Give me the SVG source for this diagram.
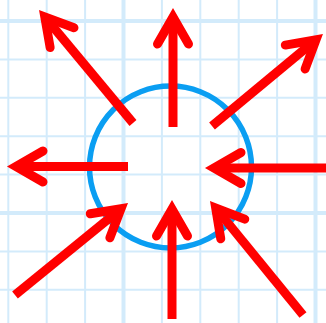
<svg xmlns="http://www.w3.org/2000/svg" width="326" height="323" viewBox="0 0 326 323">
<style>
.g{stroke:#d3ebfb;stroke-width:2;fill:none}
.gt{stroke:#d3ebfb;stroke-width:4;fill:none}
.ar{stroke:#ff0000;stroke-width:9;fill:none;stroke-linecap:butt}
.circ{stroke:#0a9ef2;stroke-width:5.5;fill:none}
</style>
<defs>
<marker id="head" markerUnits="userSpaceOnUse" viewBox="-40 -25 50 50" refX="0" refY="0" markerWidth="50" markerHeight="50" orient="auto" overflow="visible">
<path d="M-27,-15.5 L0,0 L-27,15.5" fill="none" stroke="#ff0000" stroke-width="9" stroke-linecap="round" stroke-linejoin="miter" stroke-miterlimit="10"/>
</marker>
</defs>
<rect width="326" height="323" fill="#ffffff"/>
<g id="grid">
<path class="g" d="M8.3,0V323M46.7,0V323M85.1,0V323M161.9,0V323M200.3,0V323M238.7,0V323M277.1,0V323"/>
<path class="gt" d="M123.5,0V323M315.5,0V323"/>
<path class="g" d="M0,59.4H326M0,97.8H326M0,136.2H326M0,174.6H326M0,251.4H326M0,289.8H326"/>
<path class="gt" d="M0,21H326M0,213H326"/>
</g>
<g id="circle">
<circle class="circ" cx="170.5" cy="167" r="81"/>
</g>
<g id="connectors" marker-end="url(#head)">
<line class="ar" x1="133" y1="123" x2="44.8" y2="16.9"/>
<line class="ar" x1="173" y1="127" x2="173" y2="17"/>
<line class="ar" x1="212" y1="126" x2="316" y2="39.8"/>
<line class="ar" x1="128" y1="166.5" x2="16" y2="166.5"/>
<line class="ar" x1="326" y1="168" x2="214" y2="168"/>
<line class="ar" x1="172" y1="319" x2="172" y2="209"/>
<line class="ar" x1="15" y1="295" x2="121" y2="208.7"/>
<line class="ar" x1="303" y1="315" x2="215.7" y2="208"/>
</g>
</svg>
